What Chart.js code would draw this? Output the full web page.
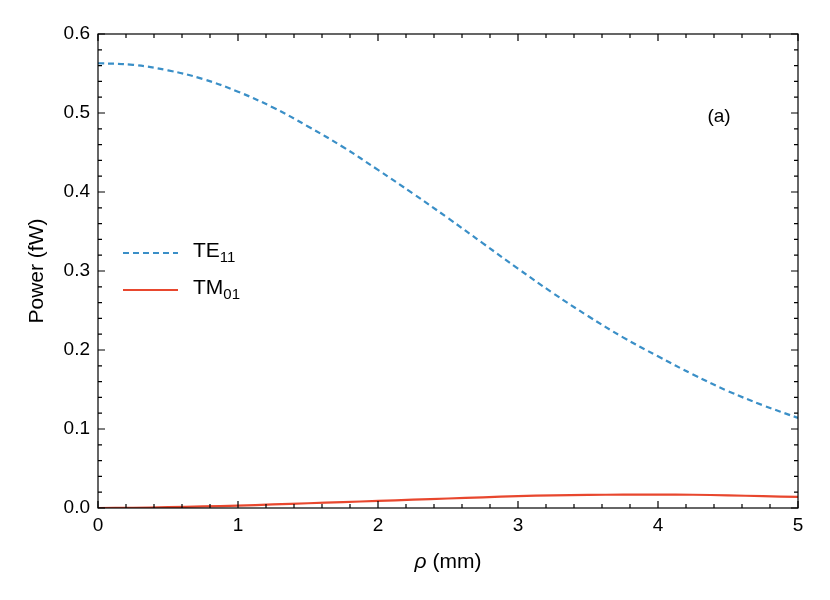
<!DOCTYPE html>
<html><head><meta charset="utf-8">
<script src="https://cdn.jsdelivr.net/npm/chart.js@4"></script>
<style>body{margin:0;background:#fff}#w{width:830px;height:600px}</style>
</head><body><div id="w"><canvas id="c"></canvas></div>
<script>
const rho = [0,0.25,0.5,0.75,1,1.25,1.5,1.75,2,2.25,2.5,2.75,3,3.25,3.5,3.75,4,4.25,4.5,4.75,5];
const te11 = [0.563,0.561,0.554,0.543,0.527,0.507,0.483,0.457,0.428,0.398,0.367,0.335,0.303,0.272,0.243,0.216,0.192,0.169,0.148,0.130,0.114];
const tm01 = [0,0.0003,0.001,0.002,0.003,0.0045,0.006,0.0075,0.009,0.0105,0.012,0.0135,0.015,0.016,0.0165,0.017,0.017,0.0168,0.016,0.015,0.014];
const xTicks = [0,1,2,3,4,5];
const yTicks = [0.0,0.1,0.2,0.3,0.4,0.5,0.6];
const blue='#3a8fc7', red='#e8472e';
const FONT='"Liberation Sans", Arial, sans-serif';
const deco={id:'deco',afterDraw(ch){
  const c=ch.ctx,a=ch.chartArea,xs=ch.scales.x,ys=ch.scales.y;
  c.save();c.strokeStyle='#000';c.lineWidth=1.2;
  c.strokeRect(a.left,a.top,a.right-a.left,a.bottom-a.top);
  c.fillStyle='#000';c.font='19px '+FONT;
  for(let i=0;i<=25;i++){const v=i*0.2,p=xs.getPixelForValue(v),L=(i%5==0)?7:4;
    c.beginPath();c.moveTo(p,a.bottom);c.lineTo(p,a.bottom-L);c.moveTo(p,a.top);c.lineTo(p,a.top+L);c.stroke();}
  for(let i=0;i<=30;i++){const v=i*0.02,p=ys.getPixelForValue(v),L=(i%5==0)?7:4;
    c.beginPath();c.moveTo(a.left,p);c.lineTo(a.left+L,p);c.moveTo(a.right,p);c.lineTo(a.right-L,p);c.stroke();}
  c.textAlign='center';c.textBaseline='top';
  xTicks.forEach(v=>c.fillText(String(v),xs.getPixelForValue(v),a.bottom+8));
  c.textAlign='right';c.textBaseline='middle';
  yTicks.forEach(v=>c.fillText(v.toFixed(1),a.left-8,ys.getPixelForValue(v)));
  c.font='21px '+FONT;c.textAlign='left';c.textBaseline='alphabetic';
  const t1='ρ',t2=' (mm)';c.font='italic 21px '+FONT;const w1=c.measureText(t1).width;
  c.font='21px '+FONT;const w2=c.measureText(t2).width;const cx=(a.left+a.right)/2-(w1+w2)/2;
  c.font='italic 21px '+FONT;c.fillText(t1,cx,a.bottom+60);c.font='21px '+FONT;c.fillText(t2,cx+w1,a.bottom+60);
  c.save();c.translate(43,(a.top+a.bottom)/2);c.rotate(-Math.PI/2);c.textAlign='center';c.fillText('Power (fW)',0,0);c.restore();
  c.font='19px '+FONT;c.textAlign='center';c.fillText('(a)',719,122);
  const items=[['TE','11',blue,[6,4],253],['TM','01',red,[],290]];
  items.forEach(([m,s,col,d,y])=>{c.strokeStyle=col;c.lineWidth=2.2;c.setLineDash(d);
    c.beginPath();c.moveTo(123,y);c.lineTo(178,y);c.stroke();c.setLineDash([]);
    c.fillStyle='#000';c.textAlign='left';c.textBaseline='middle';c.font='21px '+FONT;
    c.fillText(m,193,y-2);const w=c.measureText(m).width;c.font='15px '+FONT;c.fillText(s,193+w,y+5);});
  c.restore();}};
new Chart(document.getElementById('c'),{type:'line',
 data:{labels:rho,datasets:[
  {data:rho.map((x,i)=>({x,y:te11[i]})),borderColor:blue,borderDash:[6,4],borderWidth:2.2,pointRadius:0,tension:0.4,fill:false},
  {data:rho.map((x,i)=>({x,y:tm01[i]})),borderColor:red,borderWidth:2.2,pointRadius:0,tension:0.4,fill:false}]},
 options:{responsive:true,maintainAspectRatio:false,animation:false,
  layout:{padding:{left:98,right:32,top:34,bottom:92}},
  plugins:{legend:{display:false},tooltip:{enabled:false}},
  scales:{x:{type:'linear',min:0,max:5,display:false},y:{min:0,max:0.6,display:false}}},
 plugins:[deco]});
</script></body></html>
